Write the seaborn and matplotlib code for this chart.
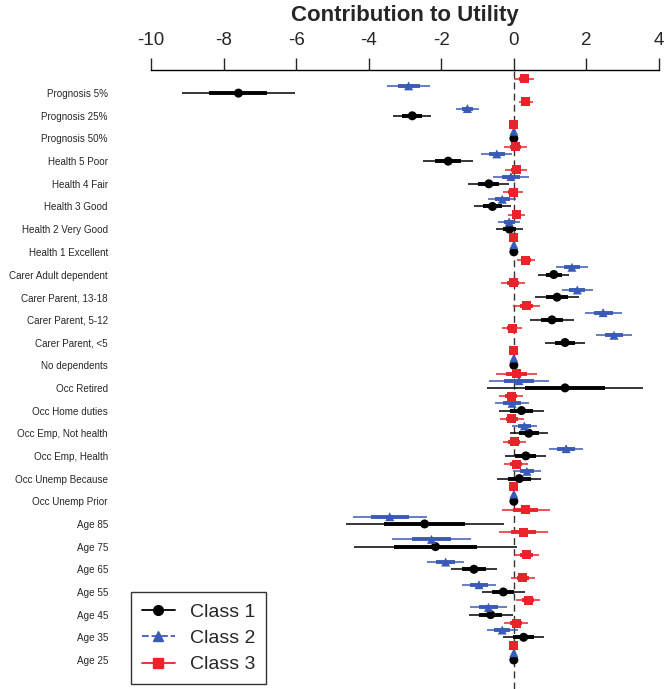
import numpy as np
import pandas as pd
import matplotlib
matplotlib.use("Agg")
import matplotlib.pyplot as plt
import seaborn as sns
from matplotlib.lines import Line2D

# Attribute levels (top to bottom)
labels = [
    "Prognosis 5%", "Prognosis 25%", "Prognosis 50%",
    "Health 5 Poor", "Health 4 Fair", "Health 3 Good", "Health 2 Very Good", "Health 1 Excellent",
    "Carer Adult dependent", "Carer Parent, 13-18", "Carer Parent, 5-12", "Carer Parent, <5", "No dependents",
    "Occ Retired", "Occ Home duties", "Occ Emp, Not health", "Occ Emp, Health",
    "Occ Unemp Because", "Occ Unemp Prior",
    "Age 85", "Age 75", "Age 65", "Age 55", "Age 45", "Age 35", "Age 25",
]

# Class 1 (black)
class1_est = [-7.59, -2.80, 0, -1.81, -0.69, -0.59, -0.12, 0,
              1.10, 1.19, 1.05, 1.41, 0,
              1.41, 0.21, 0.41, 0.33, 0.15, 0,
              -2.46, -2.16, -1.10, -0.29, -0.64, 0.27, 0]
class1_se = [0.80, 0.27, 0, 0.35, 0.29, 0.26, 0.19, 0,
             0.22, 0.31, 0.31, 0.28, 0,
             1.10, 0.31, 0.27, 0.29, 0.31, 0,
             1.11, 1.15, 0.32, 0.30, 0.31, 0.29, 0]

# Class 2 (blue)
class2_est = [-2.90, -1.28, 0, -0.47, -0.08, -0.32, -0.13, 0,
              1.60, 1.75, 2.46, 2.76, 0,
              0.14, -0.05, 0.29, 1.44, 0.36, 0,
              -3.42, -2.27, -1.88, -0.96, -0.70, -0.32, 0]
class2_se = [0.30, 0.16, 0, 0.22, 0.25, 0.20, 0.15, 0,
             0.22, 0.22, 0.26, 0.26, 0,
             0.42, 0.24, 0.18, 0.24, 0.20, 0,
             0.52, 0.55, 0.26, 0.24, 0.26, 0.22, 0]

# Class 3 (red)
class3_est = [0.29, 0.33, 0, 0.04, 0.06, -0.02, 0.07, 0,
              0.33, -0.02, 0.35, -0.05, 0,
              0.07, -0.07, -0.06, 0.01, 0.06, 0,
              0.33, 0.27, 0.35, 0.25, 0.39, 0.06, 0]
class3_se = [0.14, 0.10, 0, 0.16, 0.15, 0.14, 0.12, 0,
             0.13, 0.17, 0.19, 0.14, 0,
             0.29, 0.17, 0.17, 0.16, 0.17, 0,
             0.34, 0.34, 0.17, 0.17, 0.17, 0.17, 0]

class_names = ["Class 1", "Class 2", "Class 3"]
colors = {"Class 1": "black", "Class 2": "#3a5bb5", "Class 3": "#e8232a"}
markers = {"Class 1": "o", "Class 2": "^", "Class 3": "s"}
offsets = {"Class 1": 0.0, "Class 2": -0.32, "Class 3": -0.63}

# long table
rows = []
for name, est, se in zip(class_names, [class1_est, class2_est, class3_est],
                         [class1_se, class2_se, class3_se]):
    for i, (e, s) in enumerate(zip(est, se)):
        rows.append({"cls": name, "level": labels[i], "est": e, "se": s,
                     "y": i + offsets[name]})
df = pd.DataFrame(rows)

sns.set_style("white")
plt.rcParams["font.family"] = ["Liberation Sans", "DejaVu Sans"]
plt.rcParams["axes.unicode_minus"] = False

fig = plt.figure(figsize=(6.69, 6.89), dpi=100)
ax = fig.add_axes([151 / 669, 0.0, (659 - 151) / 669, 1 - 70 / 689])

ax.axvline(0, color="#333333", lw=1, ls=(0, (5, 3)), zorder=1)

# confidence intervals: thin = 95%, thick = +/- 1 SE
for name in class_names:
    d = df[(df["cls"] == name) & (df["se"] > 0)]
    ax.hlines(d["y"], d["est"] - 1.96 * d["se"], d["est"] + 1.96 * d["se"],
              color=colors[name], lw=1.1, zorder=2)
    ax.hlines(d["y"], d["est"] - d["se"], d["est"] + d["se"],
              color=colors[name], lw=2.8, zorder=2)

sns.scatterplot(data=df, x="est", y="y", hue="cls", style="cls",
                palette=colors, markers=markers, s=42, linewidth=0,
                legend=False, ax=ax, zorder=3)

ax.set_xlim(-10, 4)
ax.set_ylim(26.28, -1.02)
ax.set_xticks(np.arange(-10, 5, 2))
ax.xaxis.tick_top()
ax.tick_params(axis="x", direction="out", length=9, width=1, pad=6,
               labelsize=13.5, top=True, bottom=False)
ax.set_yticks(np.arange(len(labels)))
ax.set_yticklabels(labels)
ax.tick_params(axis="y", length=0, pad=31, labelsize=7.1)
ax.set_xlabel("")
ax.set_ylabel("")
for s in ["left", "right", "bottom"]:
    ax.spines[s].set_visible(False)
ax.spines["top"].set_bounds(-10, 4)
ax.spines["top"].set_color("black")
ax.spines["top"].set_linewidth(1)

fig.text(405 / 669, 1 - 15 / 689, "Contribution to Utility", ha="center", va="center",
         fontsize=16, fontweight="bold")

handles = [
    Line2D([], [], color=colors["Class 1"], marker="o", ls="-", lw=1.3, ms=7),
    Line2D([], [], color=colors["Class 2"], marker="^", ls="--", lw=1.3, ms=7),
    Line2D([], [], color=colors["Class 3"], marker="s", ls="-", lw=1.3, ms=7),
]
leg = fig.legend(handles, class_names, loc="lower left",
                 bbox_to_anchor=(131 / 669, 5 / 689), borderaxespad=0,
                 fontsize=14, frameon=True,
                 fancybox=False, edgecolor="black", handlelength=1.7,
                 borderpad=0.55, labelspacing=0.45, handletextpad=0.8)
leg.get_frame().set_linewidth(1)

fig.savefig("out.png", dpi=100)
